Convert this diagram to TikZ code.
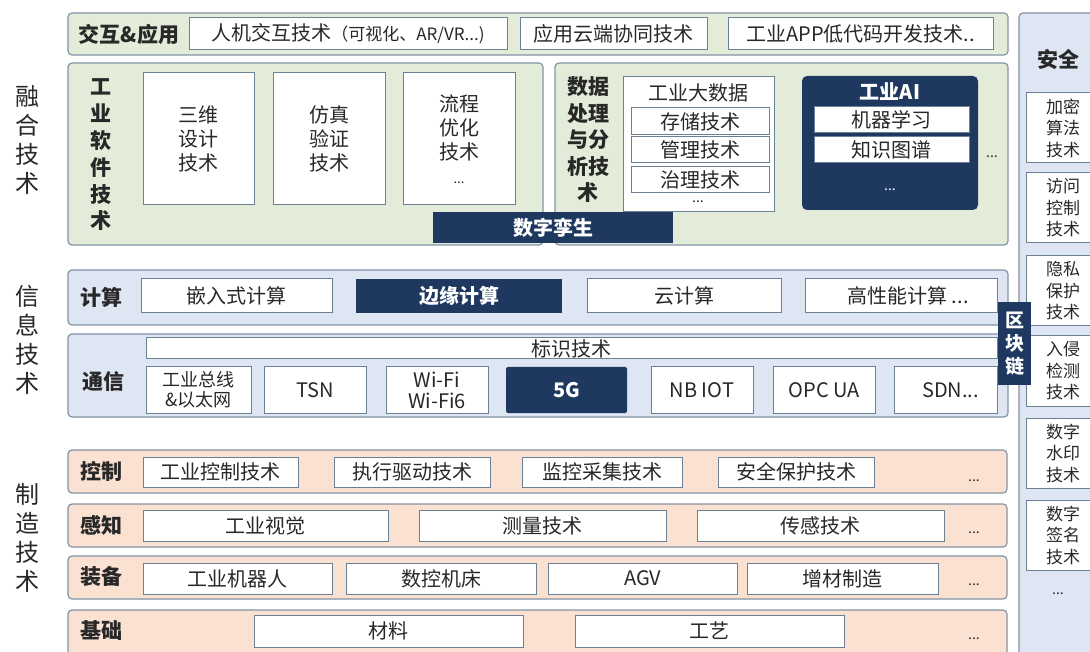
\documentclass[tikz,border=0pt]{standalone}
\usepackage{fontspec}
\setmainfont{Noto Sans CJK SC}
\definecolor{grn}{RGB}{227,236,216}
\definecolor{blu}{RGB}{221,230,242}
\definecolor{pch}{RGB}{250,225,210}
\definecolor{navy}{RGB}{31,56,96}
\definecolor{bord}{RGB}{130,147,165}
\definecolor{ibord}{RGB}{108,128,148}
\definecolor{txt}{RGB}{40,40,40}
\newcommand\itemfont{\fontsize{20}{24}\selectfont}
\newcommand\lblfont{\fontsize{21}{26}\selectfont\bfseries}
\newcommand\sidefont{\fontsize{24}{29}\selectfont}
\newcommand\secfont{\fontsize{17}{21.5}\selectfont}
\tikzset{
  bx/.style args={#1/#2/#3/#4}{minimum width={(#3-#1)*1pt}, minimum height={(#4-#2)*1pt}, at={({(#1+#3)/2},{(#2+#4)/2})}},
  outer/.style={draw=bord, line width=1.2pt, rounded corners=4pt, inner sep=0pt},
  wbox/.style={draw=ibord, fill=white, line width=1pt, inner sep=0pt, font=\itemfont, text=txt, align=center},
  dbox/.style={fill=navy, inner sep=0pt, text=white, font=\itemfont\bfseries, align=center},
  lbl/.style={font=\lblfont, text=txt, align=center},
  side/.style={font=\sidefont, text=txt, align=center},
  sect/.style={font=\secfont, text=txt, align=center},
  dots/.style={font=\fontsize{14}{16}\selectfont, text=txt},
}
\begin{document}
\begin{tikzpicture}[x=1pt,y=-1pt]
\clip (0,0) rectangle (1090,652);
\fill[white] (0,0) rectangle (1090,652);

% side labels
\node[side] (s1) at (28,140) {融\\合\\技\\术};
\node[side] (s2) at (28,340) {信\\息\\技\\术};
\node[side] (s3) at (28,538) {制\\造\\技\\术};

% security column
\node[outer, fill=blu, bx=1019/13/1110/670] (sec) {};
\node[lbl] (secl) at (1058,60) {安全};
\node[wbox, sect, bx=1026/93/1100/163, text width=64pt] (sec1) {加密\\算法\\技术};
\node[wbox, sect, bx=1026/173/1100/243, text width=64pt] (sec2) {访问\\控制\\技术};
\node[wbox, sect, bx=1026/256/1100/326, text width=64pt] (sec3) {隐私\\保护\\技术};
\node[wbox, sect, bx=1026/336/1100/406, text width=64pt] (sec4) {入侵\\检测\\技术};
\node[wbox, sect, bx=1026/418/1100/488, text width=64pt] (sec5) {数字\\水印\\技术};
\node[wbox, sect, bx=1026/500/1100/570, text width=64pt] (sec6) {数字\\签名\\技术};
\node[dots] (secd) at (1058,594) {...};

% top row
\node[outer, fill=grn, bx=68/13/1008/55] (top) {};
\node[lbl] (topl) at (129,34) {交互\&应用};
\node[wbox, bx=189/18/507/50] (hci) {人机交互技术{\fontsize{17}{20}\selectfont（可视化、AR/VR...)}};
\node[wbox, bx=520/18/707/50] (cloud) {应用云端协同技术};
\node[wbox, bx=728/18/993/50] (app) {工业APP低代码开发技术..};

% industrial software
\node[outer, fill=grn, bx=68/63/543/245] (sw) {};
\node[lbl, font=\fontsize{21}{26.8}\selectfont\bfseries] (swl) at (101,155) {工\\业\\软\\件\\技\\术};
\node[wbox, bx=143/73/254/205] (sw1) {三维\\设计\\技术};
\node[wbox, bx=273/73/385/205] (sw2) {仿真\\验证\\技术};
\node[wbox, bx=403/73/515/205] (sw3) {流程\\优化\\技术\\{\fontsize{13}{16}\selectfont ...}};

% data processing
\node[outer, fill=grn, bx=555/63/1008/245] (da) {};
\node[lbl, font=\fontsize{21}{26.5}\selectfont\bfseries] (dal) at (588,140) {数据\\处理\\与分\\析技\\术};
\node[wbox, bx=623/77/774/212] (bd) {};
\node[font=\itemfont, text=txt] (bdt) at (698,93) {工业大数据};
\node[wbox, bx=631/108/769/135] (bd1) {存储技术};
\node[wbox, bx=631/137/769/163] (bd2) {管理技术};
\node[wbox, bx=631/167/769/193] (bd3) {治理技术};
\node[dots] (bdd) at (698,202) {...};
\node[fill=navy, rounded corners=5pt, inner sep=0pt, bx=802/76/978/210] (ai) {};
\node[text=white, font=\itemfont\bfseries] (ait) at (890,92) {工业AI};
\node[wbox, bx=814/107/969/133] (ai1) {机器学习};
\node[wbox, bx=814/137/969/163] (ai2) {知识图谱};
\node[dots, text=white] (aid) at (890,190) {...};
\node[dots] (dad) at (992,157) {...};

\node[dbox, bx=433/212/673/243] (twin) {数字孪生};

% computing
\node[outer, fill=blu, bx=68/270/1008/325] (cp) {};
\node[lbl] (cpl) at (101,297) {计算};
\node[wbox, bx=141/279/332/313] (cp1) {嵌入式计算};
\node[dbox, bx=356/279/562/313] (cp2) {边缘计算};
\node[wbox, bx=587/279/781/313] (cp3) {云计算};
\node[wbox, bx=805/279/997/313] (cp4) {\hspace*{14pt}高性能计算 ...};

% communication
\node[outer, fill=blu, bx=68/334/1008/417] (cm) {};
\node[lbl] (cml) at (103,382) {通信};
\node[wbox, bx=146/338/997/359] (idt) {标识技术};
\node[wbox, font=\fontsize{18}{20}\selectfont, bx=146/367/251/413] (cm1) {工业总线\\\&以太网};
\node[wbox, bx=264/367/366/413] (cm2) {TSN};
\node[wbox, font=\fontsize{20}{21}\selectfont, bx=386/367/488/413] (cm3) {Wi-Fi\\Wi-Fi6};
\node[dbox, rounded corners=2pt, bx=506/367/627/413] (cm4) {5G};
\node[wbox, bx=651/367/753/413] (cm5) {NB IOT};
\node[wbox, bx=773/367/875/413] (cm6) {OPC UA};
\node[wbox, bx=894/367/997/413] (cm7) {\hspace*{10pt}SDN...};

% blockchain
\node[dbox, font=\fontsize{19}{23}\selectfont\bfseries, bx=998/302/1031/385] (bc) {区\\块\\链};

% control
\node[outer, fill=pch, bx=68/450/1007/493] (ct) {};
\node[lbl] (ctl) at (101,471) {控制};
\node[wbox, bx=143/457/298/487] (ct1) {工业控制技术};
\node[wbox, bx=334/457/490/487] (ct2) {执行驱动技术};
\node[wbox, bx=522/457/682/487] (ct3) {监控采集技术};
\node[wbox, bx=718/457/874/487] (ct4) {安全保护技术};
\node[dots] (ctd) at (974,481) {...};

% perception
\node[outer, fill=pch, bx=68/504/1007/547] (pc) {};
\node[lbl] (pcl) at (101,525) {感知};
\node[wbox, bx=143/510/388/541] (pc1) {工业视觉};
\node[wbox, bx=419/510/666/541] (pc2) {测量技术};
\node[wbox, bx=697/510/944/541] (pc3) {传感技术};
\node[dots] (pcd) at (974,533) {...};

% equipment
\node[outer, fill=pch, bx=68/556/1007/599] (eq) {};
\node[lbl] (eql) at (101,577) {装备};
\node[wbox, bx=143/563/332/594] (eq1) {工业机器人};
\node[wbox, bx=346/563/536/594] (eq2) {数控机床};
\node[wbox, bx=548/563/737/594] (eq3) {AGV};
\node[wbox, bx=747/563/938/594] (eq4) {增材制造};
\node[dots] (eqd) at (974,585) {...};

% foundation
\node[outer, fill=pch, bx=68/610/1007/660] (fd) {};
\node[lbl] (fdl) at (101,631) {基础};
\node[wbox, bx=254/615/523/647] (fd1) {材料};
\node[wbox, bx=575/615/844/647] (fd2) {工艺};
\node[dots] (fdd) at (974,639) {...};
\end{tikzpicture}
\end{document}
